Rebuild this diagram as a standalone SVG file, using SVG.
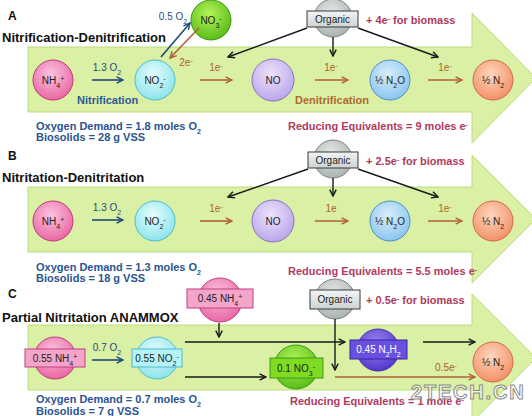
<svg xmlns="http://www.w3.org/2000/svg" width="532" height="416" viewBox="0 0 532 416">
<style>
text { font-family: "Liberation Sans", Arial, sans-serif; }
.band { fill: #daf0a4; stroke: #bcdc7c; stroke-width: 1; }
.letter { font-size: 12px; font-weight: bold; fill: #111; }
.title { font-size: 13px; font-weight: bold; fill: #111; }
.nt { font-size: 10px; fill: #222; text-anchor: middle; }
.ox { font-size: 11px; font-weight: bold; fill: #2b5590; }
.re { font-size: 11px; font-weight: bold; fill: #b03a5e; }
.ol { font-size: 10px; fill: #2a4a7a; text-anchor: middle; }
.el { font-size: 10px; fill: #b06030; text-anchor: middle; }
.nit { font-size: 11px; font-weight: bold; fill: #2f5a9a; }
.den { font-size: 11px; font-weight: bold; fill: #b06a30; }
.s { font-size: 7px; }
.blue { stroke: #1f4a7a; stroke-width: 1.6; fill: none; marker-end: url(#mb); }
.rust { stroke: #b0603a; stroke-width: 1.6; fill: none; marker-end: url(#mr); }
.blk { stroke: #1a1a1a; stroke-width: 1.4; fill: none; marker-end: url(#mk); }
.c-nh { fill: url(#gPink); stroke: #c03a78; stroke-width: 1; }
.c-no2 { fill: url(#gCyan); stroke: #52bccb; stroke-width: 1; }
.c-no3 { fill: url(#gGreen); stroke: #3f9a12; stroke-width: 1; }
.c-no { fill: url(#gLav); stroke: #8a72c4; stroke-width: 1; }
.c-n2o { fill: url(#gBlue); stroke: #4c90c8; stroke-width: 1; }
.c-n2 { fill: url(#gSalmon); stroke: #d06a48; stroke-width: 1; }
.c-org { fill: url(#gGrey); stroke: #7a8282; stroke-width: 1; }
.c-pur { fill: url(#gPurple); stroke: #4a30b0; stroke-width: 1; }
.b-org { fill: url(#gBox); stroke: #3a3a3a; stroke-width: 1; }
.b-nh { fill: #f5a4ca; stroke: #c04080; stroke-width: 1; }
.b-no2 { fill: #b4f4f8; stroke: #50b8c8; stroke-width: 1; }
.b-no3 { fill: #80dc22; stroke: #3f9a12; stroke-width: 1; }
.b-pur { fill: #6a50e0; stroke: #3a22a0; stroke-width: 1; }
</style>
<defs>
<radialGradient id="gPink" cx="0.45" cy="0.35" r="0.7"><stop offset="0" stop-color="#fbc4e0"/><stop offset="1" stop-color="#e8609f"/></radialGradient>
<radialGradient id="gCyan" cx="0.45" cy="0.35" r="0.7"><stop offset="0" stop-color="#e4fdfd"/><stop offset="1" stop-color="#86e2ea"/></radialGradient>
<radialGradient id="gGreen" cx="0.45" cy="0.35" r="0.7"><stop offset="0" stop-color="#b4f45a"/><stop offset="1" stop-color="#52b812"/></radialGradient>
<radialGradient id="gLav" cx="0.45" cy="0.35" r="0.7"><stop offset="0" stop-color="#ece2fb"/><stop offset="1" stop-color="#b8a2ea"/></radialGradient>
<radialGradient id="gBlue" cx="0.45" cy="0.35" r="0.7"><stop offset="0" stop-color="#d8eefb"/><stop offset="1" stop-color="#86c2ee"/></radialGradient>
<radialGradient id="gSalmon" cx="0.45" cy="0.35" r="0.7"><stop offset="0" stop-color="#fdd6bc"/><stop offset="1" stop-color="#f28c62"/></radialGradient>
<radialGradient id="gGrey" cx="0.45" cy="0.35" r="0.7"><stop offset="0" stop-color="#e4e8e8"/><stop offset="1" stop-color="#a6aeae"/></radialGradient>
<radialGradient id="gPurple" cx="0.45" cy="0.35" r="0.7"><stop offset="0" stop-color="#9a86f0"/><stop offset="1" stop-color="#4e30c8"/></radialGradient>
<linearGradient id="gBox" x1="0" y1="0" x2="0" y2="1"><stop offset="0" stop-color="#f2f5f5"/><stop offset="1" stop-color="#ccd3d3"/></linearGradient>
<marker id="mb" viewBox="0 0 10 10" refX="9" refY="5" markerWidth="8" markerHeight="8" markerUnits="userSpaceOnUse" orient="auto"><path d="M1,1 L9,5 L1,9" fill="none" stroke="#1f4a7a" stroke-width="1.8"/></marker>
<marker id="mr" viewBox="0 0 10 10" refX="9" refY="5" markerWidth="8" markerHeight="8" markerUnits="userSpaceOnUse" orient="auto"><path d="M1,1 L9,5 L1,9" fill="none" stroke="#b0603a" stroke-width="1.8"/></marker>
<marker id="mk" viewBox="0 0 10 10" refX="9" refY="5" markerWidth="8" markerHeight="8" markerUnits="userSpaceOnUse" orient="auto"><path d="M1,1 L9,5 L1,9" fill="none" stroke="#1a1a1a" stroke-width="1.8"/></marker>
</defs>
<rect width="532" height="416" fill="#ffffff"/>

<!-- big process arrows -->
<g id="bands">
<path class="band" d="M28,47 H472 V13 L536,78 L472,143 V112 H28 Z"/>
<path class="band" d="M28,187 H472 V155 L536,219 L472,283 V252 H28 Z"/>
<path class="band" d="M28,325 H472 V294 L536,358 L472,422 V390 H28 Z"/>
</g>

<!-- ===== Section A ===== -->
<g id="A-labels">
<text class="letter" x="8" y="20">A</text>
<text class="title" x="2" y="42">Nitrification-Denitrification</text>
<text class="nit" x="77" y="104">Nitrification</text>
<text class="den" x="295" y="104">Denitrification</text>
<text class="ox" x="36" y="130">Oxygen Demand = 1.8 moles O<tspan class="s" baseline-shift="sub">2</tspan></text>
<text class="ox" x="36" y="141">Biosolids = 28 g VSS</text>
<text class="re" x="288" y="130">Reducing Equivalents = 9 moles e<tspan class="s" baseline-shift="super">-</tspan></text>
<text class="re" x="366" y="24">+ 4e<tspan class="s" baseline-shift="super">-</tspan> for biomass</text>
</g>
<g id="A-NH4"><circle class="c-nh" cx="53" cy="80" r="20"/><text class="nt" x="53" y="84">NH<tspan class="s" baseline-shift="sub">4</tspan><tspan class="s" baseline-shift="super">+</tspan></text></g>
<g id="A-NO2"><circle class="c-no2" cx="155" cy="80" r="20"/><text class="nt" x="155" y="84">NO<tspan class="s" baseline-shift="sub">2</tspan><tspan class="s" baseline-shift="super">-</tspan></text></g>
<g id="A-NO3"><circle class="c-no3" cx="211" cy="20" r="20"/><text class="nt" x="211" y="24">NO<tspan class="s" baseline-shift="sub">3</tspan><tspan class="s" baseline-shift="super">-</tspan></text></g>
<g id="A-NO"><circle class="c-no" cx="273" cy="80" r="21"/><text class="nt" x="273" y="84">NO</text></g>
<g id="A-N2O"><circle class="c-n2o" cx="390" cy="80" r="20"/><text class="nt" x="390" y="84">½ N<tspan class="s" baseline-shift="sub">2</tspan>O</text></g>
<g id="A-N2"><circle class="c-n2" cx="493" cy="80" r="20"/><text class="nt" x="493" y="84">½ N<tspan class="s" baseline-shift="sub">2</tspan></text></g>
<g id="A-Organic"><circle class="c-org" cx="333" cy="18" r="19"/><rect class="b-org" x="307" y="11" width="51" height="16"/><text class="nt" x="332.5" y="23">Organic</text></g>

<!-- ===== Section B ===== -->
<g id="B-labels">
<text class="letter" x="8" y="160">B</text>
<text class="title" x="2" y="182">Nitritation-Denitritation</text>
<text class="ox" x="36" y="271">Oxygen Demand = 1.3 moles O<tspan class="s" baseline-shift="sub">2</tspan></text>
<text class="ox" x="36" y="282">Biosolids = 18 g VSS</text>
<text class="re" x="288" y="275">Reducing Equivalents = 5.5 moles e<tspan class="s" baseline-shift="super">-</tspan></text>
<text class="re" x="366" y="165">+ 2.5e<tspan class="s" baseline-shift="super">-</tspan> for biomass</text>
</g>
<g id="B-NH4"><circle class="c-nh" cx="53" cy="221" r="20"/><text class="nt" x="53" y="225">NH<tspan class="s" baseline-shift="sub">4</tspan><tspan class="s" baseline-shift="super">+</tspan></text></g>
<g id="B-NO2"><circle class="c-no2" cx="155" cy="221" r="20"/><text class="nt" x="155" y="225">NO<tspan class="s" baseline-shift="sub">2</tspan><tspan class="s" baseline-shift="super">-</tspan></text></g>
<g id="B-NO"><circle class="c-no" cx="273" cy="221" r="21"/><text class="nt" x="273" y="225">NO</text></g>
<g id="B-N2O"><circle class="c-n2o" cx="390" cy="221" r="20"/><text class="nt" x="390" y="225">½ N<tspan class="s" baseline-shift="sub">2</tspan>O</text></g>
<g id="B-N2"><circle class="c-n2" cx="493" cy="221" r="20"/><text class="nt" x="493" y="225">½ N<tspan class="s" baseline-shift="sub">2</tspan></text></g>
<g id="B-Organic"><circle class="c-org" cx="333" cy="159" r="19"/><rect class="b-org" x="308" y="152" width="50" height="16"/><text class="nt" x="333" y="164">Organic</text></g>

<!-- ===== Section C ===== -->
<g id="C-labels">
<text class="letter" x="8" y="298">C</text>
<text class="title" x="2" y="322">Partial Nitritation ANAMMOX</text>
<text class="ox" x="36" y="403">Oxygen Demand = 0.7 moles O<tspan class="s" baseline-shift="sub">2</tspan></text>
<text class="ox" x="36" y="415">Biosolids = 7 g VSS</text>
<text class="re" x="290" y="405">Reducing Equivalents = 1 mole e<tspan class="s" baseline-shift="super">-</tspan></text>
<text class="re" x="366" y="304">+ 0.5e<tspan class="s" baseline-shift="super">-</tspan> for biomass</text>
</g>
<g id="C-NH4a"><circle class="c-nh" cx="55" cy="358" r="21"/><rect class="b-nh" x="25" y="349" width="60" height="18"/><text class="nt" x="55" y="362">0.55 NH<tspan class="s" baseline-shift="sub">4</tspan><tspan class="s" baseline-shift="super">+</tspan></text></g>
<g id="C-NO2"><circle class="c-no2" cx="157" cy="358" r="21"/><rect class="b-no2" x="132" y="349" width="50" height="18"/><text class="nt" x="157" y="362">0.55 NO<tspan class="s" baseline-shift="sub">2</tspan><tspan class="s" baseline-shift="super">-</tspan></text></g>
<g id="C-NH4b"><circle class="c-nh" cx="220" cy="300" r="22"/><rect class="b-nh" x="187" y="289" width="66" height="19"/><text class="nt" x="220" y="302">0.45 NH<tspan class="s" baseline-shift="sub">4</tspan><tspan class="s" baseline-shift="super">+</tspan></text></g>
<g id="C-NO3"><circle class="c-no3" cx="296" cy="367" r="22"/><rect class="b-no3" x="270" y="358" width="53" height="20"/><text class="nt" x="296" y="372">0.1 NO<tspan class="s" baseline-shift="sub">3</tspan><tspan class="s" baseline-shift="super">-</tspan></text></g>
<g id="C-Organic"><circle class="c-org" cx="335" cy="299" r="20"/><rect class="b-org" x="310" y="290" width="50" height="19"/><text class="nt" x="335" y="303">Organic</text></g>
<g id="C-N2H2"><circle class="c-pur" cx="378" cy="350" r="21"/><rect class="b-pur" x="350" y="340" width="57" height="19"/><text class="nt" x="378.5" y="353" fill="#ffffff" style="fill:#ffffff">0.45 N<tspan class="s" baseline-shift="sub">2</tspan>H<tspan class="s" baseline-shift="sub">2</tspan></text></g>
<g id="C-N2"><circle class="c-n2" cx="493" cy="362" r="20"/><text class="nt" x="493" y="366">½ N<tspan class="s" baseline-shift="sub">2</tspan></text></g>

<!-- ===== Connectors ===== -->
<g id="connectors">
<!-- A -->
<line class="blue" x1="92" y1="80" x2="123" y2="80"/>
<line class="blue" x1="161" y1="57" x2="190" y2="23"/>
<line class="rust" x1="199" y1="28" x2="170" y2="58"/>
<line class="rust" x1="200" y1="80" x2="232" y2="80"/>
<line class="rust" x1="315" y1="80" x2="348" y2="80"/>
<line class="rust" x1="428" y1="80" x2="462" y2="80"/>
<line class="blk" x1="307" y1="28" x2="228" y2="57"/>
<line class="blk" x1="333" y1="37" x2="333" y2="56"/>
<line class="blk" x1="358" y1="28" x2="438" y2="57"/>
<!-- B -->
<line class="blue" x1="92" y1="220" x2="123" y2="220"/>
<line class="rust" x1="200" y1="221" x2="232" y2="221"/>
<line class="rust" x1="315" y1="221" x2="348" y2="221"/>
<line class="rust" x1="428" y1="221" x2="462" y2="221"/>
<line class="blk" x1="308" y1="169" x2="228" y2="197"/>
<line class="blk" x1="333" y1="178" x2="333" y2="196"/>
<line class="blk" x1="358" y1="169" x2="438" y2="197"/>
<!-- C -->
<line class="blue" x1="92" y1="360" x2="123" y2="360"/>
<line class="blk" x1="219" y1="323" x2="219" y2="337"/>
<line class="blk" x1="185" y1="342" x2="345" y2="342"/>
<line class="blk" x1="185" y1="377" x2="266" y2="377"/>
<line class="blk" x1="335" y1="319" x2="335" y2="370"/>
<line class="blk" x1="423" y1="342" x2="475" y2="342"/>
<line class="rust" x1="335" y1="377" x2="475" y2="377"/>
<!-- connector labels -->
<text class="ol" x="107" y="71">1.3 O<tspan class="s" baseline-shift="sub">2</tspan></text>
<text class="ol" x="173" y="20">0.5 O<tspan class="s" baseline-shift="sub">2</tspan></text>
<text class="el" x="186" y="66">2e<tspan class="s" baseline-shift="super">-</tspan></text>
<text class="el" x="216" y="71">1e<tspan class="s" baseline-shift="super">-</tspan></text>
<text class="el" x="331" y="71">1e<tspan class="s" baseline-shift="super">-</tspan></text>
<text class="el" x="445" y="71">1e<tspan class="s" baseline-shift="super">-</tspan></text>
<text class="ol" x="107" y="211">1.3 O<tspan class="s" baseline-shift="sub">2</tspan></text>
<text class="el" x="216" y="212">1e<tspan class="s" baseline-shift="super">-</tspan></text>
<text class="el" x="331" y="212">1e</text>
<text class="el" x="445" y="212">1e<tspan class="s" baseline-shift="super">-</tspan></text>
<text class="ol" x="107" y="351">0.7 O<tspan class="s" baseline-shift="sub">2</tspan></text>
<text class="el" x="446" y="371">0.5e<tspan class="s" baseline-shift="super">-</tspan></text>
</g>

<text x="411" y="399" font-size="20" font-weight="bold" letter-spacing="1.8" fill="#ffffff" fill-opacity="0.6" stroke="#8c8c8c" stroke-width="1">2TECH.CN</text>
</svg>
